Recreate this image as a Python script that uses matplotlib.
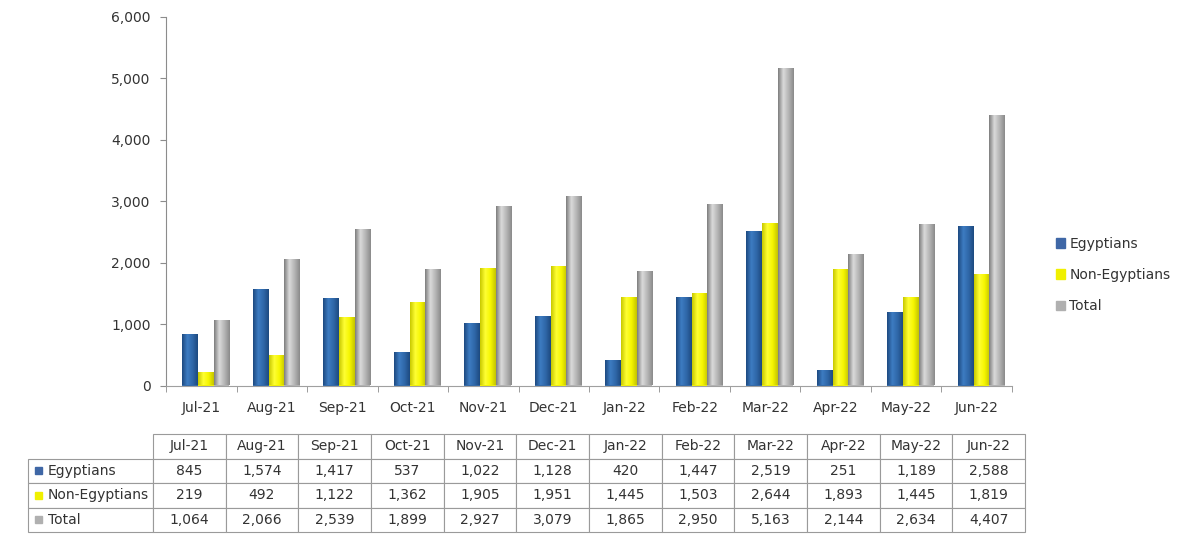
import matplotlib
matplotlib.use('Agg')
import matplotlib.pyplot as plt
import numpy as np
from matplotlib.colors import LinearSegmentedColormap
from matplotlib.patches import Rectangle
from matplotlib.ticker import FuncFormatter

months = ['Jul-21', 'Aug-21', 'Sep-21', 'Oct-21', 'Nov-21', 'Dec-21',
          'Jan-22', 'Feb-22', 'Mar-22', 'Apr-22', 'May-22', 'Jun-22']
egyptians = [845, 1574, 1417, 537, 1022, 1128, 420, 1447, 2519, 251, 1189, 2588]
non_egyptians = [219, 492, 1122, 1362, 1905, 1951, 1445, 1503, 2644, 1893, 1445, 1819]
total = [1064, 2066, 2539, 1899, 2927, 3079, 1865, 2950, 5163, 2144, 2634, 4407]
series_names = ['Egyptians', 'Non-Egyptians', 'Total']

# cylinder-ish shading for each series: edge, highlight, edge
shades = [['#1d4a80', '#3d7cc2', '#2f67a8', '#1d4a80'],
          ['#c8c800', '#ffff33', '#f5f500', '#c4c400'],
          ['#7d7d7d', '#dadada', '#b5b5b5', '#8a8a8a']]
legend_colors = ['#3f67a6', '#f0f000', '#b0b0b0']
text_color = '#333333'

fig = plt.figure(figsize=(12, 5.38), dpi=100)
ax = fig.add_axes([166/1200, 1 - 385.5/538, 846/1200, (385.5 - 16.7)/538])

x = np.arange(len(months))
offsets = [-0.156, 0.064, 0.284]
width = 0.22
grad = np.linspace(0, 1, 64).reshape(1, -1)

for vals, off, sh in zip([egyptians, non_egyptians, total], offsets, shades):
    cmap = LinearSegmentedColormap.from_list('s', sh)
    bars = ax.bar(x + off, vals, width=width, color=sh[2], edgecolor='none', zorder=2)
    for b in bars:
        bx, by = b.get_x(), b.get_y()
        im = ax.imshow(grad, cmap=cmap, aspect='auto', zorder=3,
                       extent=[bx, bx + b.get_width(), by, by + b.get_height()])
        im.set_clip_path(b)

ax.set_xlim(-0.5, len(months) - 0.5)
ax.set_ylim(0, 6000)

for s in ['top', 'right']:
    ax.spines[s].set_visible(False)
ax.spines['left'].set_color('#8c8c8c')
ax.spines['bottom'].set_color('#a0a0a0')

ax.set_yticks(np.arange(0, 6001, 1000))
ax.yaxis.set_major_formatter(FuncFormatter(lambda v, p: f'{v:,.0f}'))
ax.tick_params(axis='y', direction='out', length=4, color='#8c8c8c', pad=7,
               labelsize=10, labelcolor=text_color)
ax.set_xticks(x)
ax.set_xticklabels(months)
ax.set_xticks(np.arange(-0.5, len(months)), minor=True)
ax.tick_params(axis='x', which='major', length=0, pad=11, labelsize=10, labelcolor=text_color)
ax.tick_params(axis='x', which='minor', direction='out', length=4, color='#8c8c8c')

handles = [Rectangle((0, 0), 1, 1, color=c) for c in legend_colors]
fig.legend(handles, series_names, loc='center left', bbox_to_anchor=(1043/1200, 1 - 275/538),
           frameon=False, fontsize=10, handlelength=0.7, handleheight=0.7,
           handletextpad=0.3, labelspacing=1.25, labelcolor=text_color)

# data table under the chart (first column holds the series labels)
ax2 = fig.add_axes([28/1200, 1 - 532/538, 997/1200, 98/538])
ax2.axis('off')
cell_text = [[''] + [f'{v:,}' for v in row] for row in (egyptians, non_egyptians, total)]
tbl = ax2.table(cellText=cell_text, colLabels=[''] + months, cellLoc='center',
                colWidths=[125/997] + [72.7/997]*len(months), bbox=[0, 0, 1, 1])
tbl.auto_set_font_size(False)
tbl.set_fontsize(10)
for (r, c), cell in tbl.get_celld().items():
    cell.set_edgecolor('#9a9a9a')
    cell.set_linewidth(0.8)
    cell.get_text().set_color(text_color)
tbl[0, 0].visible_edges = ''

for i, (name, col) in enumerate(zip(series_names, legend_colors)):
    yc = 0.625 - 0.25*i
    ax2.add_patch(Rectangle((7/997, yc - 3.5/98), 7/997, 7/98, color=col,
                            transform=ax2.transAxes, clip_on=False))
    ax2.text(20/997, yc, name, transform=ax2.transAxes, va='center', ha='left',
             fontsize=10, color=text_color)

fig.savefig('out.png', dpi=100)
